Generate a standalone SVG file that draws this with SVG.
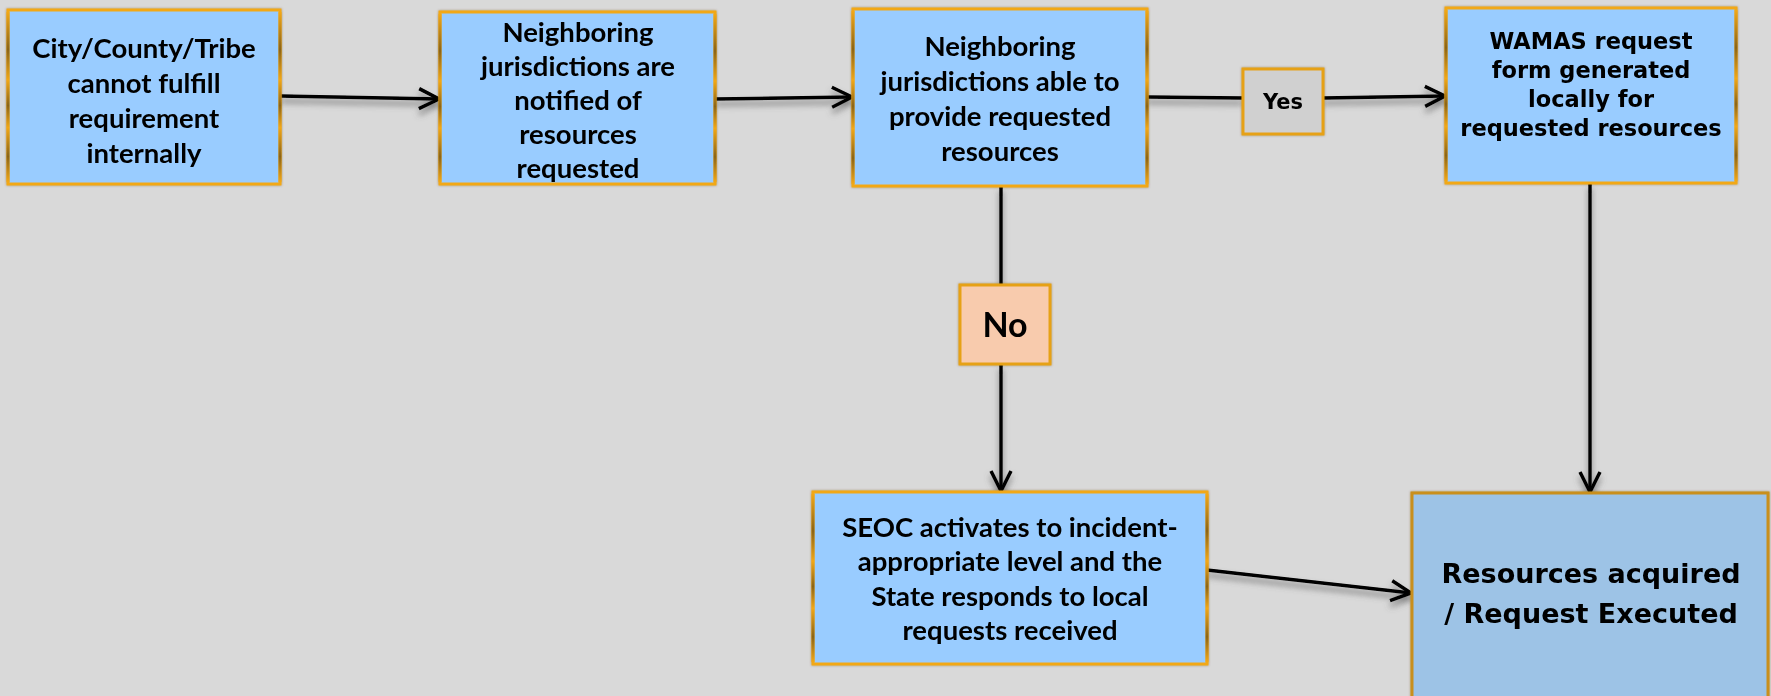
<svg xmlns="http://www.w3.org/2000/svg" width="1771" height="696" viewBox="0 0 1771 696">
<defs>
<style>
.box{fill:#99CCFF;stroke:#F2A818;stroke-width:3}
.side{fill:url(#sg)}
.t{font-family:Lato,"Liberation Sans",sans-serif;font-weight:bold;font-size:27.5px;fill:#000;text-anchor:middle}
.v{font-family:"DejaVu Sans","Liberation Sans",sans-serif;font-weight:bold;fill:#000;text-anchor:middle}
.c{stroke:#000;stroke-width:3.5;fill:none;marker-end:url(#ah)}
</style>
<linearGradient id="sg" x1="0" y1="0" x2="0" y2="1">
<stop offset="0" stop-color="#F2A818"/>
<stop offset="0.22" stop-color="#8C6414"/>
<stop offset="0.4" stop-color="#F2A818"/>
<stop offset="0.55" stop-color="#8C6414"/>
<stop offset="0.68" stop-color="#F2A818"/>
<stop offset="0.85" stop-color="#8C6414"/>
<stop offset="1" stop-color="#F2A818"/>
</linearGradient>
<marker id="ah" markerUnits="userSpaceOnUse" markerWidth="26" markerHeight="26" refX="22" refY="12" orient="auto" viewBox="0 0 26 24">
<path d="M2,2 L22,12 L2,22" fill="none" stroke="#000" stroke-width="3.5"/>
</marker>
<filter id="sh" x="-10%" y="-50%" width="120%" height="300%">
<feDropShadow dx="0" dy="5" stdDeviation="3" flood-color="#555" flood-opacity="0.7"/>
</filter>
<filter id="bs" x="-5%" y="-5%" width="110%" height="110%">
<feDropShadow dx="0" dy="0" stdDeviation="1.2" flood-color="#6b4a00" flood-opacity="0.5"/>
</filter>
</defs>
<rect width="1771" height="696" fill="#D9D9D9"/>
<g id="connectors" filter="url(#sh)">
<line class="c" x1="280" y1="96" x2="439" y2="99"/>
<line class="c" x1="715" y1="99" x2="852" y2="97"/>
<line x1="1146" y1="97" x2="1243" y2="98" stroke="#000" stroke-width="3.5"/>
<line class="c" x1="1323" y1="98" x2="1445" y2="96"/>
<line x1="1001" y1="186" x2="1001" y2="285" stroke="#000" stroke-width="3.5"/>
<line class="c" x1="1001" y1="364" x2="1001" y2="491"/>
<line class="c" x1="1590" y1="183" x2="1590" y2="492"/>
<line class="c" x1="1207" y1="570" x2="1411" y2="593"/>
</g>
<g id="n1" filter="url(#bs)">
<rect class="box" x="8" y="10" width="272" height="174"/>
<rect class="side" x="6.5" y="12" width="3" height="170"/>
<rect class="side" x="278.5" y="12" width="3" height="170"/>
<text class="t" x="144" y="58">City/County/Tribe</text>
<text class="t" x="144" y="93">cannot fulfill</text>
<text class="t" x="144" y="128">requirement</text>
<text class="t" x="144" y="163">internally</text>
</g>
<g id="n2" filter="url(#bs)">
<rect class="box" x="440" y="12" width="275" height="172"/>
<rect class="side" x="438.5" y="14" width="3" height="168"/>
<rect class="side" x="713.5" y="14" width="3" height="168"/>
<text class="t" x="578" y="42">Neighboring</text>
<text class="t" x="578" y="76">jurisdictions are</text>
<text class="t" x="578" y="110">notified of</text>
<text class="t" x="578" y="144">resources</text>
<text class="t" x="578" y="178">requested</text>
</g>
<g id="n3" filter="url(#bs)">
<rect class="box" x="853" y="9" width="294" height="177"/>
<rect class="side" x="851.5" y="11" width="3" height="173"/>
<rect class="side" x="1145.5" y="11" width="3" height="173"/>
<text class="t" x="1000" y="56">Neighboring</text>
<text class="t" x="1000" y="91">jurisdictions able to</text>
<text class="t" x="1000" y="126">provide requested</text>
<text class="t" x="1000" y="161">resources</text>
</g>
<g id="yes" filter="url(#bs)">
<rect x="1243" y="69" width="80" height="65" fill="#D0D0D0" stroke="#E6A118" stroke-width="3"/>
<text class="v" x="1283" y="109" font-size="21">Yes</text>
</g>
<g id="n4" filter="url(#bs)">
<rect class="box" x="1446" y="8" width="290" height="175"/>
<rect class="side" x="1444.5" y="10" width="3" height="171"/>
<rect class="side" x="1734.5" y="10" width="3" height="171"/>
<text class="v" x="1591" y="49" font-size="22.5">WAMAS request</text>
<text class="v" x="1591" y="78" font-size="22.5">form generated</text>
<text class="v" x="1591" y="107" font-size="22.5">locally for</text>
<text class="v" x="1591" y="136" font-size="22.5">requested resources</text>
</g>
<g id="no" filter="url(#bs)">
<rect x="960" y="285" width="90" height="79" fill="#F8CBAD" stroke="#E6A118" stroke-width="3"/>
<text class="t" x="1005" y="337" style="font-size:34px">No</text>
</g>
<g id="n5" filter="url(#bs)">
<rect class="box" x="813" y="492" width="394" height="172"/>
<rect class="side" x="811.5" y="494" width="3" height="168"/>
<rect class="side" x="1205.5" y="494" width="3" height="168"/>
<text class="t" x="1010" y="537">SEOC activates to incident-</text>
<text class="t" x="1010" y="571">appropriate level and the</text>
<text class="t" x="1010" y="606">State responds to local</text>
<text class="t" x="1010" y="640">requests received</text>
</g>
<g id="n6" filter="url(#bs)">
<rect x="1412" y="493" width="356" height="220" fill="#9DC3E6" stroke="#C98F1A" stroke-width="3"/>
<text class="v" x="1591" y="583" font-size="27">Resources acquired</text>
<text class="v" x="1591" y="623" font-size="27">/ Request Executed</text>
</g>
</svg>
